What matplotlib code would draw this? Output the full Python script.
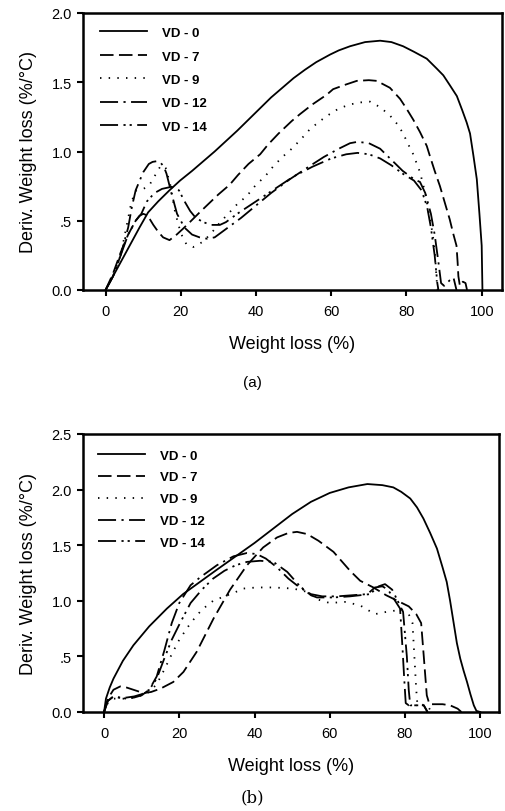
import matplotlib
matplotlib.use("Agg")
import matplotlib.pyplot as plt
import numpy as np

plt.rcParams['font.family'] = ['Liberation Sans', 'DejaVu Sans']

labels = ["VD - 0", "VD - 7", "VD - 9", "VD - 12", "VD - 14"]

# ---------------- Panel (a) ----------------
a_vd0_x = [0, 3, 6, 9, 11.3, 14, 17, 19.8, 23, 26, 29, 31.8, 35, 38, 41, 44, 47, 50, 53, 56, 59.7, 62, 65, 69, 73, 76, 79.1, 82, 85.4, 88, 89.8, 91.5, 93.4, 94.8, 96, 96.9, 97.8, 98.7, 99.4, 100, 100.2]
a_vd0_y = [0, 0.15, 0.30, 0.45, 0.56, 0.64, 0.72, 0.79, 0.86, 0.93, 1.0, 1.07, 1.15, 1.23, 1.31, 1.39, 1.46, 1.53, 1.59, 1.645, 1.70, 1.73, 1.76, 1.79, 1.80, 1.79, 1.76, 1.72, 1.67, 1.60, 1.55, 1.48, 1.40, 1.30, 1.21, 1.13, 0.97, 0.80, 0.55, 0.32, 0]

a_vd7_x = [0, 2, 4, 6, 8, 9, 10, 11, 11.8, 12.7, 14, 15.3, 17, 18.9, 20.5, 22.4, 25, 27.3, 30, 33, 35.2, 38, 41.1, 43.2, 46, 49.5, 51.7, 55, 58.8, 60.5, 63.5, 66.8, 70, 72.1, 75.6, 78.3, 80, 81.8, 83.6, 85.4, 86.2, 87.5, 88.9, 90.2, 91.5, 92.5, 93.3, 93.6, 93.8, 94.2, 95, 95.7, 96.1]
a_vd7_y = [0, 0.12, 0.27, 0.40, 0.50, 0.535, 0.55, 0.54, 0.51, 0.47, 0.42, 0.38, 0.36, 0.40, 0.44, 0.49, 0.56, 0.62, 0.69, 0.76, 0.83, 0.91, 0.98, 1.05, 1.13, 1.22, 1.27, 1.34, 1.41, 1.45, 1.48, 1.51, 1.515, 1.51, 1.46, 1.38, 1.31, 1.23, 1.14, 1.04, 0.97, 0.86, 0.75, 0.63, 0.51, 0.40, 0.32, 0.20, 0.10, 0.03, 0.06, 0.05, 0]

a_vd9_x = [0, 2, 4, 5.5, 6.9, 8.2, 10, 11.5, 13, 14.5, 15.3, 16, 17.2, 18.5, 20, 21.5, 23.3, 26, 28.4, 30.5, 32.6, 35, 37.6, 40, 42.4, 44.5, 47, 49.5, 52, 54.3, 57, 59.6, 62, 65, 68, 70.3, 73, 75.6, 77.8, 79.1, 80.5, 81.8, 83.6, 84.9, 86, 87, 87.6, 88, 88.3]
a_vd9_y = [0, 0.10, 0.25, 0.45, 0.64, 0.72, 0.73, 0.75, 0.82, 0.89, 0.90, 0.88, 0.76, 0.56, 0.41, 0.33, 0.31, 0.35, 0.42, 0.49, 0.55, 0.62, 0.68, 0.76, 0.82, 0.89, 0.96, 1.02, 1.09, 1.16, 1.22, 1.27, 1.31, 1.34, 1.355, 1.36, 1.32, 1.26, 1.19, 1.13, 1.05, 0.98, 0.85, 0.71, 0.55, 0.40, 0.25, 0.08, 0]

a_vd12_x = [0, 2, 4, 6, 7, 8, 10, 11.5, 12.5, 13.6, 14.6, 15.5, 16.2, 17.5, 19, 21, 23, 25, 27, 29, 31, 33, 36, 40, 44, 49, 54, 58, 62, 65, 67, 70, 73, 76, 79, 82, 83.6, 85, 86.5, 87.5, 88.5, 89.2, 90, 91.5, 92.5, 93.3]
a_vd12_y = [0, 0.10, 0.25, 0.45, 0.60, 0.72, 0.85, 0.91, 0.925, 0.93, 0.92, 0.89, 0.84, 0.70, 0.55, 0.45, 0.40, 0.38, 0.37, 0.38, 0.42, 0.46, 0.52, 0.61, 0.70, 0.80, 0.89, 0.96, 1.02, 1.06, 1.07, 1.06, 1.02, 0.94, 0.86, 0.80, 0.78, 0.70, 0.55, 0.40, 0.20, 0.05, 0.03, 0.07, 0.09, 0]

a_vd14_x = [0, 2, 4, 6, 8, 9.5, 11, 13, 15, 17.5, 19.5, 21, 22.5, 24, 26, 28, 30.4, 32, 35, 40, 45, 50, 55, 60, 64, 67, 70, 73, 76, 79, 82, 84, 85.5, 86.5, 87.5, 88.2, 88.5]
a_vd14_y = [0, 0.10, 0.25, 0.40, 0.50, 0.55, 0.64, 0.70, 0.73, 0.745, 0.72, 0.64, 0.57, 0.52, 0.49, 0.47, 0.47, 0.49, 0.55, 0.64, 0.73, 0.82, 0.89, 0.95, 0.98, 0.99, 0.98, 0.95, 0.90, 0.84, 0.79, 0.72, 0.60, 0.45, 0.25, 0.05, 0]

# ---------------- Panel (b) ----------------
b_vd0_x = [0, 0.5, 1.5, 2.5, 5, 7.8, 12, 16.7, 21, 25.5, 30, 35, 40, 45, 50, 55, 60, 65, 70, 74, 76.9, 79, 81.4, 83.2, 84.9, 86.7, 88.5, 90, 91.1, 92, 92.9, 93.8, 94.7, 95.6, 96.5, 97.4, 98.3, 99, 100]
b_vd0_y = [0, 0.12, 0.22, 0.30, 0.46, 0.60, 0.77, 0.93, 1.06, 1.17, 1.28, 1.40, 1.52, 1.65, 1.78, 1.89, 1.97, 2.02, 2.05, 2.04, 2.02, 1.98, 1.92, 1.84, 1.74, 1.61, 1.47, 1.30, 1.17, 1.00, 0.81, 0.62, 0.48, 0.37, 0.27, 0.16, 0.06, 0.01, 0]

b_vd7_x = [0, 1, 2.5, 4.3, 6, 7.8, 10.5, 12.5, 15, 18.4, 21.1, 24.6, 29.1, 33.5, 38, 42.3, 46, 49, 51.3, 54, 57, 61, 65.4, 68.1, 71.6, 75, 78, 81, 83, 84.3, 85, 85.8, 86.5, 90, 92, 94, 95]
b_vd7_y = [0, 0.12, 0.20, 0.23, 0.22, 0.20, 0.17, 0.18, 0.21, 0.27, 0.36, 0.54, 0.84, 1.10, 1.32, 1.48, 1.57, 1.61, 1.62, 1.60, 1.54, 1.44, 1.27, 1.18, 1.12, 1.05, 1.00, 0.95, 0.88, 0.80, 0.50, 0.15, 0.07, 0.07, 0.06, 0.03, 0]

b_vd9_x = [0, 1, 2.5, 4, 6, 8, 10, 12, 14, 16, 18, 20, 23, 26, 29, 32, 34.4, 37, 40.6, 45, 50.3, 54, 57, 60, 64, 68, 72, 75, 77, 79, 81, 82, 82.5, 83, 83.3, 86, 87]
b_vd9_y = [0, 0.08, 0.12, 0.12, 0.12, 0.13, 0.15, 0.18, 0.25, 0.38, 0.52, 0.65, 0.80, 0.92, 1.00, 1.04, 1.07, 1.11, 1.12, 1.12, 1.11, 1.08, 1.01, 0.98, 0.99, 0.96, 0.88, 0.90, 0.91, 0.92, 0.88, 0.80, 0.50, 0.20, 0.07, 0.06, 0]

b_vd12_x = [0, 1, 2.5, 4, 6, 8, 10, 12, 14, 16, 18, 20, 23, 25.5, 30, 34.4, 38, 40.6, 43, 46, 49, 52, 55, 58, 62, 66, 70, 72, 74, 75.5, 77, 78.7, 79.3, 79.8, 80.2, 81, 85, 86]
b_vd12_y = [0, 0.10, 0.14, 0.13, 0.13, 0.14, 0.16, 0.20, 0.32, 0.55, 0.80, 0.98, 1.14, 1.21, 1.32, 1.40, 1.43, 1.42, 1.38, 1.30, 1.20, 1.12, 1.06, 1.04, 1.04, 1.05, 1.06, 1.12, 1.13, 1.10, 1.02, 0.93, 0.60, 0.30, 0.08, 0.06, 0.06, 0]

b_vd14_x = [0, 1, 2.5, 4, 6, 8, 10, 12, 14, 16, 18, 20.2, 23, 26, 29, 32, 35, 38, 41.5, 45, 48.7, 52.1, 55, 56.6, 61, 65.4, 70.7, 73, 74.7, 76.6, 78.2, 79.5, 80.5, 81, 81.4, 85, 86]
b_vd14_y = [0, 0.10, 0.14, 0.13, 0.12, 0.13, 0.15, 0.20, 0.30, 0.48, 0.65, 0.80, 0.98, 1.10, 1.20, 1.27, 1.32, 1.35, 1.36, 1.35, 1.26, 1.13, 1.05, 1.03, 1.03, 1.04, 1.06, 1.13, 1.15, 1.10, 0.99, 0.90, 0.50, 0.20, 0.06, 0.06, 0]

xticks = [0, 20, 40, 60, 80, 100]
a_yticks = [0.0, 0.5, 1.0, 1.5, 2.0]
a_yticklabels = ["0.0", ".5", "1.0", "1.5", "2.0"]
b_yticks = [0.0, 0.5, 1.0, 1.5, 2.0, 2.5]
b_yticklabels = ["0.0", ".5", "1.0", "1.5", "2.0", "2.5"]

styles = [
    dict(linestyle='-'),
    dict(linestyle=(0, (7.5, 3.0))),
    dict(linestyle=(0, (0.8, 4.0))),
    dict(linestyle=(0, (10, 3.0, 1.2, 3.0))),
    dict(linestyle=(0, (10, 3.0, 1.2, 2.2, 1.2, 3.0))),
]

W, H = 505, 812
fig = plt.figure(figsize=(W / 100, H / 100), dpi=100)


def make_axes(left, right, top, bottom):
    return fig.add_axes([left / W, 1 - bottom / H, (right - left) / W, (bottom - top) / H])


def style_axes(ax, xlim, ylim, yticks, yticklabels):
    ax.set_xlim(*xlim)
    ax.set_ylim(*ylim)
    ax.set_xticks(xticks)
    ax.set_xticklabels([str(t) for t in xticks])
    ax.set_yticks(yticks)
    ax.set_yticklabels(yticklabels)
    for s in ax.spines.values():
        s.set_linewidth(1.8)
    ax.tick_params(direction='out', length=4, width=1.5, labelsize=10.5, pad=4)
    ax.tick_params(axis='x', pad=6)
    ax.set_xlabel("Weight loss (%)", fontsize=13, labelpad=12)
    ax.set_ylabel("Deriv. Weight loss (%/°C)", fontsize=13, labelpad=10)


def draw(ax, series, legend_anchor, spacing):
    for (x, y), lab, st in zip(series, labels, styles):
        ax.plot(x, y, color='black', linewidth=1.3, label=lab,
                solid_joinstyle='round', dash_joinstyle='round', **st)
    ax.legend(loc='upper left', bbox_to_anchor=legend_anchor, frameon=False,
              handlelength=3.6, handletextpad=1.1, labelspacing=spacing,
              borderpad=0, borderaxespad=0,
              prop={'weight': 'bold', 'size': 9.5})


ax1 = make_axes(83, 502, 14, 291)
draw(ax1, [(a_vd0_x, a_vd0_y), (a_vd7_x, a_vd7_y), (a_vd9_x, a_vd9_y),
           (a_vd12_x, a_vd12_y), (a_vd14_x, a_vd14_y)], (0.04, 0.95), 0.85)
style_axes(ax1, (-6.0, 105.4), (0, 2.0), a_yticks, a_yticklabels)

ax2 = make_axes(83, 499, 435, 713)
draw(ax2, [(b_vd0_x, b_vd0_y), (b_vd7_x, b_vd7_y), (b_vd9_x, b_vd9_y),
           (b_vd12_x, b_vd12_y), (b_vd14_x, b_vd14_y)], (0.036, 0.945), 0.73)
style_axes(ax2, (-5.6, 105.0), (0, 2.5), b_yticks, b_yticklabels)

fig.text(252 / W, 1 - 383 / H, "(a)", ha='center', va='center', fontsize=11)
fig.text(252 / W, 1 - 798 / H, "(b)", ha='center', va='center', fontsize=12, family=['DejaVu Serif'])

fig.savefig("out.png", dpi=100)
